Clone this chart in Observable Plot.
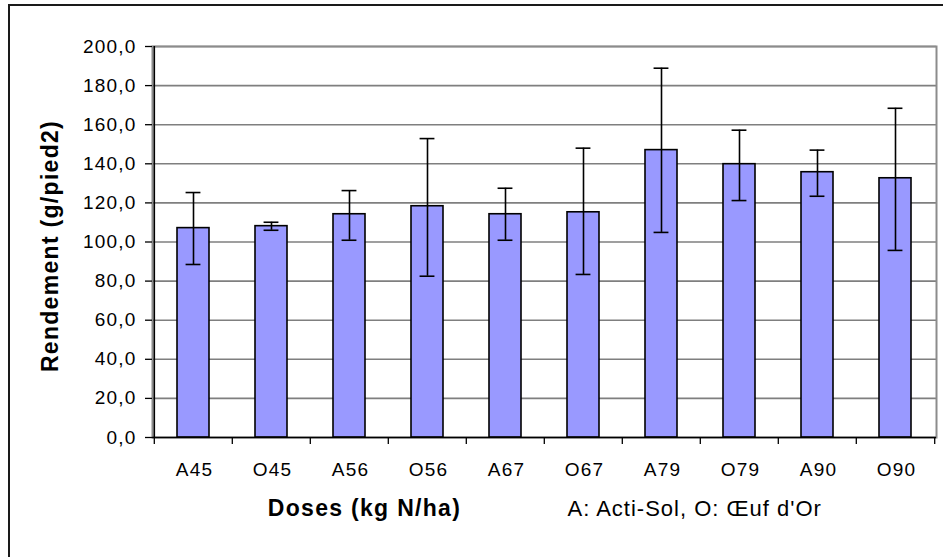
<!DOCTYPE html>
<html>
<head>
<meta charset="utf-8">
<script src="https://cdn.jsdelivr.net/npm/d3@7"></script>
<script src="https://cdn.jsdelivr.net/npm/@observablehq/plot@0.6"></script>
<style>
  html, body { margin: 0; padding: 0; background: #fff; }
  #chart { position: relative; width: 943px; height: 557px; overflow: hidden; }
  #chart svg { font-family: "Liberation Sans", Arial, sans-serif; }
  .ticklab text { letter-spacing: 1.2px; font-size: 19px; }
  .bigtxt text { letter-spacing: 1.3px; }
  .notetxt text { letter-spacing: 1px; }
</style>
</head>
<body>
<div id="chart"></div>
<script>
const categories = ["A45", "O45", "A56", "O56", "A67", "O67", "A79", "O79", "A90", "O90"];
const means      = [107.1, 108.1, 114.2, 118.3, 114.2, 115.2, 147.0, 139.8, 135.7, 132.6];
const errLow     = [88.5, 106.0, 100.9, 82.5, 100.9, 83.4, 104.9, 121.2, 123.4, 95.7];
const errHigh    = [125.3, 110.1, 126.3, 152.9, 127.5, 148.0, 188.9, 157.2, 147.0, 168.4];
const yTicks     = [0, 20, 40, 60, 80, 100, 120, 140, 160, 180, 200];
const xTitle = "Doses (kg N/ha)";
const yTitle = "Rendement (g/pied2)";
const note = "A: Acti-Sol, O: Œuf d'Or";

const data = categories.map((c, i) => ({cat: c, mean: means[i], lo: errLow[i], hi: errHigh[i]}));

const W = 943, H = 557;
const mL = 152, mR = 7, mT = 46, mB = 120;
const step = (W - mL - mR) / categories.length;
const bw = step * 0.41;
const capW = 15;
const fmt = d => d.toFixed(1).replace(".", ",");

const plot = Plot.plot({
  width: W, height: H,
  marginLeft: mL, marginRight: mR, marginTop: mT, marginBottom: mB,
  style: {fontFamily: "'Liberation Sans', Arial, sans-serif", background: "white"},
  x: {domain: categories, paddingInner: 0.59, paddingOuter: 0.295, axis: null},
  y: {domain: [0, 200], axis: null},
  marks: [
    Plot.ruleY(yTicks.filter(d => d > 0), {y: d => d, stroke: "#7f7f7f", strokeWidth: 1.6}),
    Plot.frame({stroke: "#8c8c8c", strokeWidth: 2}),
    Plot.barY(data, {x: "cat", y: "mean", fill: "#9999ff", stroke: "#000", strokeWidth: 1.6}),
    Plot.ruleX(data, {x: "cat", y1: "lo", y2: "hi", stroke: "#000", strokeWidth: 1.6}),
    Plot.tickY(data, {x: "cat", y: "hi", stroke: "#000", strokeWidth: 1.6, inset: (bw - capW) / 2}),
    Plot.tickY(data, {x: "cat", y: "lo", stroke: "#000", strokeWidth: 1.6, inset: (bw - capW) / 2}),
    // x axis line
    Plot.ruleY([0], {stroke: "#000", strokeWidth: 1.6}),
    // y axis line
    Plot.ruleX([categories[0]], {x: d => d, dx: -step / 2, y1: 0, y2: 200, stroke: "#000", strokeWidth: 1.6}),
    // y axis ticks and labels
    Plot.axisY({ticks: yTicks, tickSize: 7, tickPadding: 9, tickFormat: fmt, fontSize: 19, stroke: "#000", strokeWidth: 1.3, anchor: "left", color: "#000", label: null, className: "ticklab"}),
    // x boundary ticks
    Plot.ruleX(categories, {x: d => d, dx: -step / 2, y1: 0, y2: 0, insetBottom: -7, stroke: "#000", strokeWidth: 1.3}),
    Plot.ruleX([categories[categories.length - 1]], {x: d => d, dx: step / 2, y1: 0, y2: 0, insetBottom: -7, stroke: "#000", strokeWidth: 1.3}),
    // x labels
    Plot.axisX({tickSize: 0, tickPadding: 25, fontSize: 19, color: "#000", anchor: "bottom", label: null, dx: 1, className: "ticklab"}),
    // titles
    Plot.text([xTitle], {text: d => d, frameAnchor: "bottom", dy: 78, dx: 364 - (mL + (W - mL - mR) / 2), fontSize: 23, fontWeight: "bold", fill: "#000", className: "bigtxt"}),
    Plot.text([note], {text: d => d, frameAnchor: "bottom-left", textAnchor: "start", dy: 78, dx: 567 - mL, fontSize: 22, fill: "#000", className: "notetxt"}),
    Plot.text([yTitle], {text: d => d, frameAnchor: "left", textAnchor: "middle", rotate: -90, dx: 50 - mL, dy: 4, fontSize: 23, fontWeight: "bold", fill: "#000", className: "bigtxt"})
  ]
});

document.getElementById("chart").appendChild(plot);
d3.select(plot).append("rect")
  .attr("x", 9).attr("y", 5).attr("width", 960).attr("height", 600)
  .attr("fill", "none").attr("stroke", "#1a1a1a").attr("stroke-width", 2);
</script>
</body>
</html>
